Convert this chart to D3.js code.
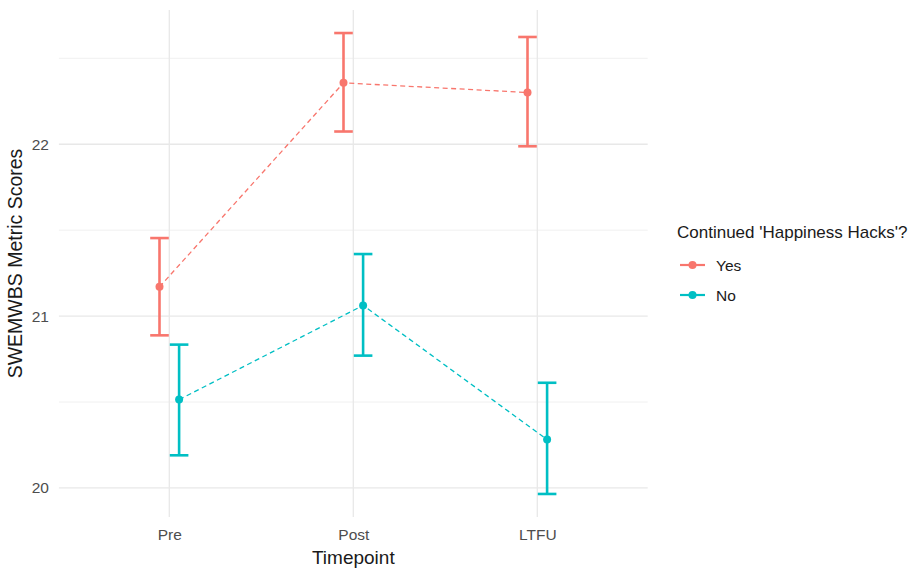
<!DOCTYPE html>
<html><head><meta charset="utf-8">
<script src="https://cdn.jsdelivr.net/npm/d3@7"></script>
<style>body{margin:0;background:#fff}svg{display:block}text{font-family:"Liberation Sans",Arial,sans-serif}</style>
</head><body>
<script>
const timepoints = ["Pre", "Post", "LTFU"];
const groups = ["Yes", "No"];
const groupColors = ["#F8766D", "#00BFC4"];
const yesMean = [21.17, 22.357, 22.301];
const yesLower = [20.888, 22.074, 21.988];
const yesUpper = [21.454, 22.647, 22.624];
const noMean = [20.514, 21.062, 20.282];
const noLower = [20.19, 20.77, 19.965];
const noUpper = [20.834, 21.361, 20.612];
const yTicks = [20, 21, 22];
const yMinor = [20.5, 21.5, 22.5];
const legendTitle = "Continued 'Happiness Hacks'?";
const xTitle = "Timepoint";
const yTitle = "SWEMWBS Metric Scores";

const W = 917, H = 568;
const panel = {left: 58.9, right: 647.7, top: 10, bottom: 517};
const svg = d3.select("body").append("svg").attr("width", W).attr("height", H);

const x = d3.scalePoint().domain(timepoints).range([169.3, 537.3]);
const y = d3.scaleLinear().domain([19.831, 22.781]).range([panel.bottom, panel.top]);
const dodge = 9.8;
const offsets = [-dodge, dodge];

const series = [
  {name: groups[0], color: groupColors[0], mean: yesMean, lo: yesLower, hi: yesUpper},
  {name: groups[1], color: groupColors[1], mean: noMean, lo: noLower, hi: noUpper}
];

// grid
const g = svg.append("g");
yMinor.forEach(v => g.append("line").attr("x1", panel.left).attr("x2", panel.right)
  .attr("y1", y(v)).attr("y2", y(v)).attr("stroke", "#f0f0f0").attr("stroke-width", 1));
yTicks.forEach(v => g.append("line").attr("x1", panel.left).attr("x2", panel.right)
  .attr("y1", y(v)).attr("y2", y(v)).attr("stroke", "#e8e8e8").attr("stroke-width", 1.3));
timepoints.forEach(t => g.append("line").attr("x1", x(t)).attr("x2", x(t))
  .attr("y1", panel.top).attr("y2", panel.bottom).attr("stroke", "#e8e8e8").attr("stroke-width", 1.3));

// axes (labels only)
const yAxis = d3.axisLeft(y).tickValues(yTicks).tickSize(0).tickPadding(0).tickFormat(d3.format("d"));
const ya = svg.append("g").attr("transform", `translate(${panel.left - 10},0)`).call(yAxis);
ya.select(".domain").remove();
ya.selectAll("text").attr("font-size", 15.5).attr("fill", "#4d4d4d").attr("font-family", "Liberation Sans, Arial, sans-serif");

const xAxis = d3.axisBottom(x).tickSize(0).tickPadding(0);
const xa = svg.append("g").attr("transform", `translate(0,${panel.bottom + 12})`).call(xAxis);
xa.select(".domain").remove();
xa.selectAll("text").attr("font-size", 15.5).attr("fill", "#4d4d4d").attr("font-family", "Liberation Sans, Arial, sans-serif");

// titles
svg.append("text").attr("x", x("Post")).attr("y", 564).attr("text-anchor", "middle")
  .attr("font-size", 19).attr("fill", "#1a1a1a").text(xTitle);
svg.append("text").attr("transform", `translate(22,${(panel.top + panel.bottom) / 2}) rotate(-90)`)
  .attr("text-anchor", "middle").attr("font-size", 19.5).attr("fill", "#1a1a1a").text(yTitle);

// series
series.forEach((s, i) => {
  const pts = timepoints.map((t, j) => ({x: x(t) + offsets[i], m: s.mean[j], lo: s.lo[j], hi: s.hi[j]}));
  const line = d3.line().x(d => d.x).y(d => y(d.m));
  svg.append("path").datum(pts).attr("d", line).attr("fill", "none")
    .attr("stroke", s.color).attr("stroke-width", 1.3).attr("stroke-dasharray", "5,3.5");
  const eb = svg.append("g").attr("stroke", s.color).attr("stroke-width", 2.6);
  pts.forEach(d => {
    eb.append("line").attr("x1", d.x).attr("x2", d.x).attr("y1", y(d.hi)).attr("y2", y(d.lo));
    eb.append("line").attr("x1", d.x - 9.3).attr("x2", d.x + 9.3).attr("y1", y(d.hi)).attr("y2", y(d.hi));
    eb.append("line").attr("x1", d.x - 9.3).attr("x2", d.x + 9.3).attr("y1", y(d.lo)).attr("y2", y(d.lo));
  });
  svg.append("g").selectAll("circle").data(pts).join("circle")
    .attr("cx", d => d.x).attr("cy", d => y(d.m)).attr("r", 4).attr("fill", s.color);
});

// legend
const lg = svg.append("g");
lg.append("text").attr("x", 677).attr("y", 238).attr("font-size", 17).attr("fill", "#1a1a1a").text(legendTitle);
series.forEach((s, i) => {
  const cy = 265 + i * 30;
  lg.append("line").attr("x1", 680).attr("x2", 705).attr("y1", cy).attr("y2", cy)
    .attr("stroke", s.color).attr("stroke-width", 2.2);
  lg.append("circle").attr("cx", 692.5).attr("cy", cy).attr("r", 4).attr("fill", s.color);
  lg.append("text").attr("x", 716).attr("y", cy + 5.5).attr("font-size", 15.5).attr("fill", "#1a1a1a").text(s.name);
});
</script>
</body></html>
